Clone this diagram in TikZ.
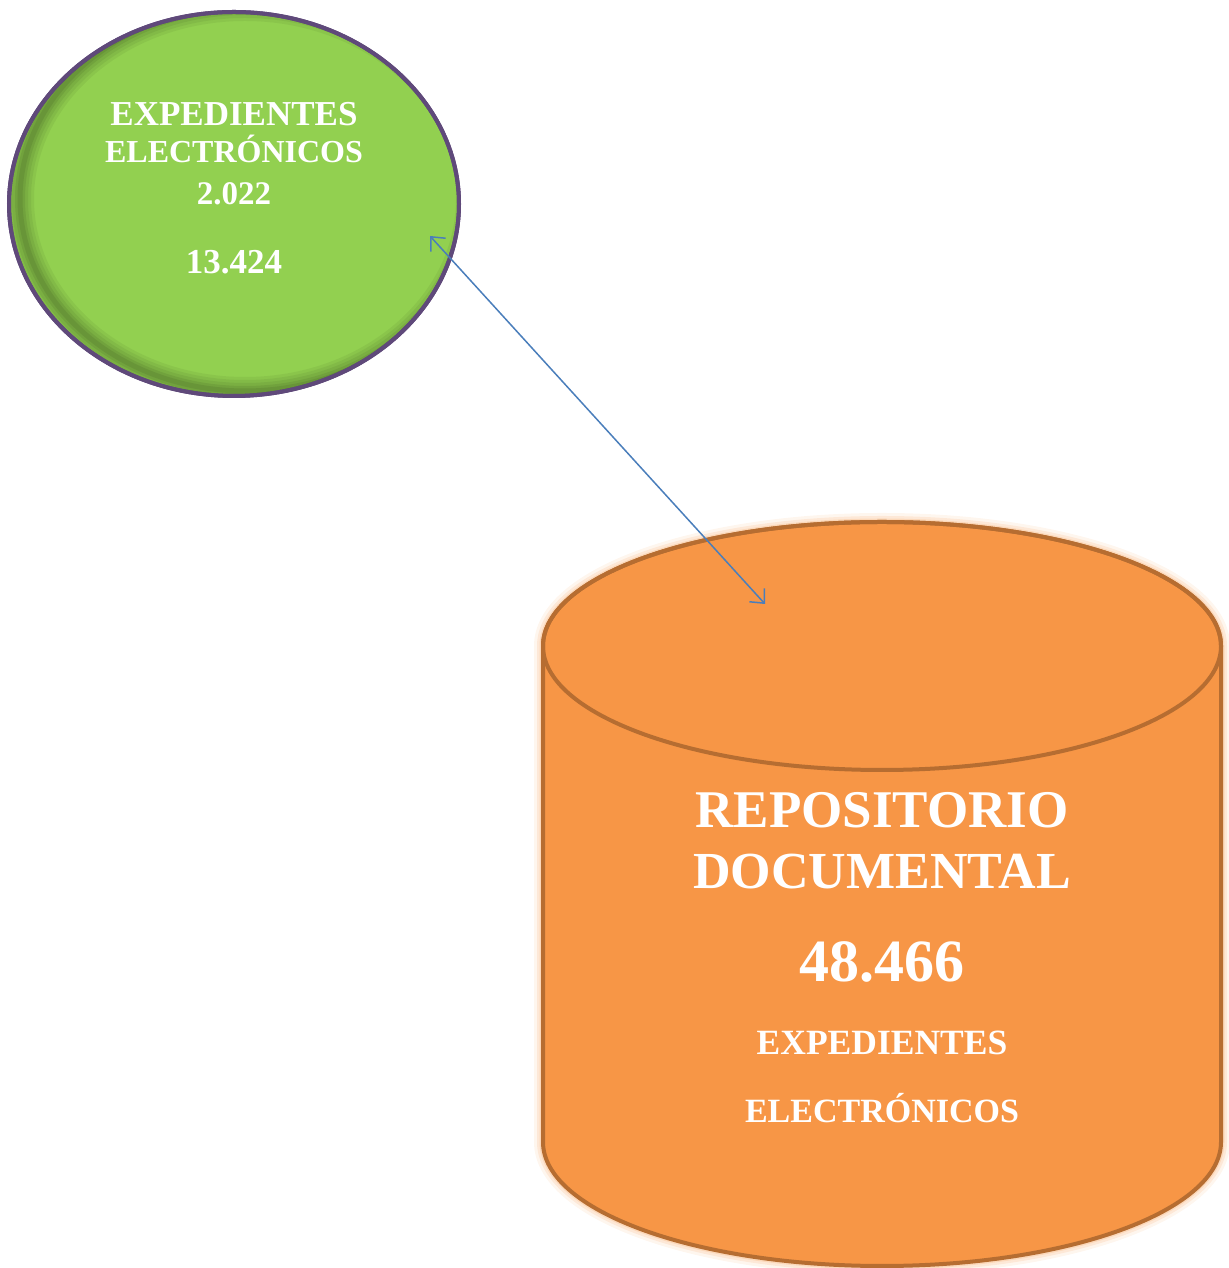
\documentclass[tikz,border=0pt]{standalone}
\usepackage{fontspec}
\setmainfont{Liberation Serif}
\usetikzlibrary{shapes.geometric,arrows.meta}
\definecolor{gfill}{HTML}{92D050}
\definecolor{gline}{HTML}{5F497A}
\definecolor{ofill}{HTML}{F79646}
\definecolor{oline}{HTML}{B66D31}
\definecolor{oglow}{HTML}{FAC08F}
\definecolor{arr}{HTML}{4A7EBB}
\tikzset{
  lbl/.style={anchor=base, inner sep=0pt, text=white, font=\bfseries},
  conn/.style={draw=arr, line width=1.5pt, {Straight Barb[length=11pt,width=20pt,line width=1.5pt]}-{Straight Barb[length=11pt,width=20pt,line width=1.5pt]}}
}
\begin{document}
\begin{tikzpicture}[x=1pt,y=1pt]
\useasboundingbox (0,0) rectangle (1228,1268);
% ---- green ellipse
\node[ellipse, draw=gline, line width=4pt, fill=gfill, minimum width=450pt, minimum height=384pt, inner sep=0pt] (exp) at (234,1064) {};
\begin{scope}
  \clip (234,1064) ellipse [x radius=223, y radius=190];
  \foreach \w/\o in {28/0.05,22/0.05,16/0.06,10/0.07,5/0.08}{
    \draw[black, line width=\w pt, opacity=\o] (245,1069) ellipse [x radius=225, y radius=192];
  }
\end{scope}
\draw[gline, line width=4pt] (exp.center) ellipse [x radius=225, y radius=192];
\node[lbl, font=\bfseries\fontsize{35}{35}\selectfont] (t1) at (234,1142) {EXPEDIENTES};
\node[lbl, font=\bfseries\fontsize{32}{32}\selectfont] (t2) at (234,1105) {ELECTRÓNICOS};
\node[lbl, font=\bfseries\fontsize{33}{33}\selectfont] (t3) at (234,1063) {2.022};
\node[lbl, font=\bfseries\fontsize{35}{35}\selectfont] (t4) at (234,994) {13.424};
% ---- cylinder
\def\outline{(543,622) arc[start angle=180,end angle=0,x radius=339,y radius=124] -- (1221,126) arc[start angle=0,end angle=-180,x radius=339,y radius=124] -- cycle}
\foreach \w/\o in {18/0.15,12/0.25,7/0.4}{
  \draw[oglow, line width=\w pt, opacity=\o, line join=round] \outline;
}
\fill[ofill] \outline;
\draw[oline, line width=4pt, line join=round] \outline;
\draw[oline, line width=4pt] (882,622) ellipse [x radius=339, y radius=124];
\coordinate (repo) at (882,400);
\node[lbl, font=\bfseries\fontsize{53}{53}\selectfont] (r1) at (882,440) {REPOSITORIO};
\node[lbl, font=\bfseries\fontsize{52}{52}\selectfont] (r2) at (882,379) {DOCUMENTAL};
\node[lbl, font=\bfseries\fontsize{60}{60}\selectfont] (r3) at (882,286) {48.466};
\node[lbl, font=\bfseries\fontsize{35.5}{35.5}\selectfont] (r4) at (882,213) {EXPEDIENTES};
\node[lbl, font=\bfseries\fontsize{34}{34}\selectfont] (r5) at (882,145) {ELECTRÓNICOS};
% ---- connector
\coordinate (a1) at (430,1032);
\coordinate (a2) at (765,664);
\draw[conn] (a1) -- (a2);
\end{tikzpicture}
\end{document}
